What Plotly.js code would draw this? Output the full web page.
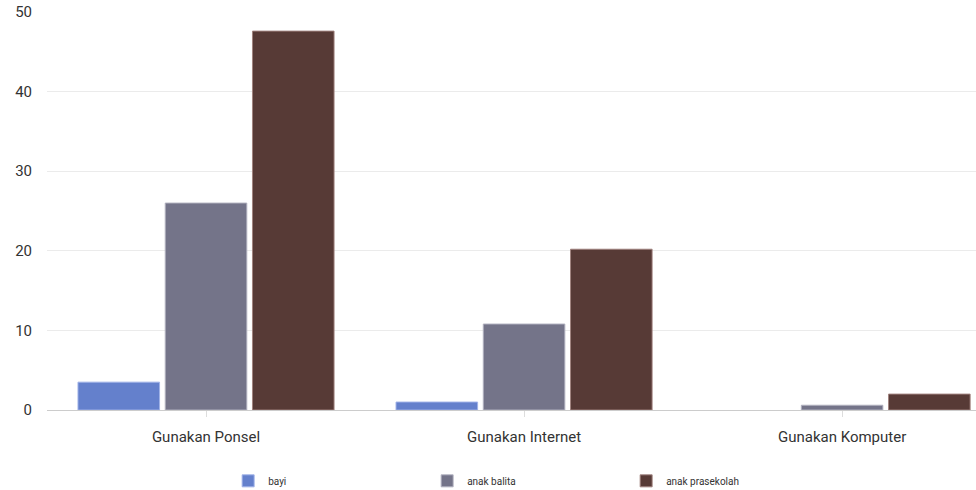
<!DOCTYPE html>
<html>
<head>
<meta charset="utf-8">
<script src="https://cdn.plot.ly/plotly-3.0.1.min.js"></script>
<style>html,body{margin:0;padding:0;background:#fff;}#chart{width:976px;height:490px;}</style>
</head>
<body>
<div id="chart"></div>
<script>
const categories = ["Gunakan Ponsel", "Gunakan Internet", "Gunakan Komputer"];
const seriesNames = ["bayi", "anak balita", "anak prasekolah"];
const bayi = [3.5, 1.0, 0];
const anakBalita = [26, 10.8, 0.6];
const anakPrasekolah = [47.6, 20.2, 2.0];
const yTicks = [0, 10, 20, 30, 40, 50];

const colors = ["#6480cc", "#747489", "#573a36"];
const lineColors = ["rgba(160,178,232,0.95)", "rgba(178,178,192,0.95)", "rgba(160,130,125,0.95)"];
const values = [bayi, anakBalita, anakPrasekolah];

const traces = values.map((v, i) => ({
  type: "bar",
  name: seriesNames[i],
  x: categories,
  y: v,
  marker: {color: colors[i], line: {color: lineColors[i], width: v.map(d => d === 0 ? 0 : 1)}},
  hoverinfo: "x+y+name"
}));

const layout = {
  width: 976,
  height: 490,
  margin: {l: 47, r: 0, t: 12, b: 80, autoexpand: false},
  paper_bgcolor: "#fff",
  plot_bgcolor: "#fff",
  font: {family: "Roboto, Arial, sans-serif", size: 13, color: "#333"},
  barmode: "group",
  bargap: 0.177,
  bargroupgap: 0.065,
  showlegend: true,
  xaxis: {
    type: "category",
    range: [-0.5, 2.421],
    showgrid: false,
    ticks: "outside",
    ticklen: 6,
    tickcolor: "#ddd",
    ticklabelstandoff: 7,
    tickfont: {size: 15, color: "#333"},
    showline: false,
    zeroline: false,
    automargin: false
  },
  yaxis: {
    range: [0, 50],
    tickvals: yTicks,
    ticktext: yTicks.map(String),
    showgrid: true,
    gridcolor: "#ebebeb",
    zeroline: true,
    zerolinecolor: "#cccccc",
    zerolinewidth: 1,
    ticklabelstandoff: 14,
    tickfont: {size: 15, color: "#333"},
    automargin: false
  },
  legend: {
    orientation: "h",
    x: 0.195,
    xanchor: "left",
    y: -0.178,
    yanchor: "middle",
    entrywidth: 154,
    entrywidthmode: "pixels",
    font: {size: 10, color: "#333"}
  }
};

Plotly.newPlot("chart", traces, layout, {displayModeBar: false, responsive: false});
</script>
</body>
</html>
